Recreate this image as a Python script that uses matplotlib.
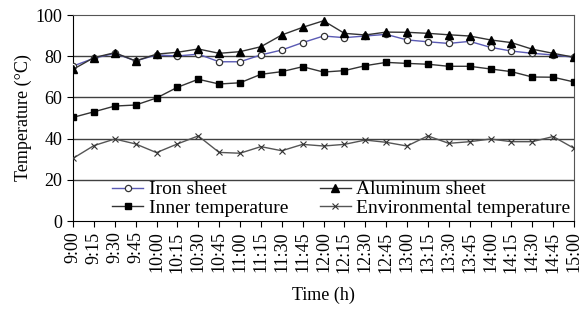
import matplotlib.pyplot as plt
import numpy as np

plt.rcParams['font.family'] = ['Liberation Serif', 'DejaVu Serif']

times = ['9:00', '9:15', '9:30', '9:45', '10:00', '10:15', '10:30', '10:45',
         '11:00', '11:15', '11:30', '11:45', '12:00', '12:15', '12:30', '12:45',
         '13:00', '13:15', '13:30', '13:45', '14:00', '14:15', '14:30', '14:45',
         '15:00']

iron = [75.2, 79.0, 81.4, 77.7, 80.6, 80.1, 81.0, 77.3, 77.3, 80.6, 83.0, 86.6,
        89.8, 89.0, 89.8, 90.6, 87.9, 87.0, 86.2, 87.2, 84.3, 82.5, 81.4, 80.6,
        79.5]
aluminum = [73.6, 79.3, 81.7, 77.7, 81.0, 81.9, 83.5, 81.4, 82.2, 84.6, 90.3, 94.0,
            97.2, 91.1, 90.3, 91.7, 91.6, 91.1, 90.4, 89.8, 87.9, 86.6, 83.4, 81.4,
            79.5]
inner = [50.3, 53.0, 55.8, 56.3, 59.7, 64.9, 68.8, 66.5, 67.1, 71.2, 72.5, 74.9,
         72.3, 73.0, 75.4, 77.0, 76.5, 76.1, 75.1, 75.1, 73.8, 72.5, 69.9, 69.8,
         67.5]
environment = [30.4, 36.6, 39.8, 37.4, 33.2, 37.4, 41.3, 33.3, 32.9, 36.1, 34.1, 37.2,
               36.4, 37.2, 39.3, 38.2, 36.4, 41.3, 37.7, 38.5, 39.8, 38.5, 38.5, 41.0,
               35.3]

x = np.arange(len(times))

fig = plt.figure(figsize=(5.81, 3.10), dpi=100)
ax = fig.add_axes([73/581, 1-221/310, 501/581, 206/310])

for yv in [20, 40, 60, 80]:
    ax.axhline(yv, color='#404040', lw=1, zorder=1)

l_iron, = ax.plot(x, iron, color='#5a5ab4', lw=1, marker='o', ms=4.5, mfc='white',
                  mec='#333333', mew=0.9, label='Iron sheet', zorder=3)
l_alu, = ax.plot(x, aluminum, color='#333333', lw=1, marker='^', ms=5.5, mfc='black',
                 mec='black', label='Aluminum sheet', zorder=3)
l_inner, = ax.plot(x, inner, color='#333333', lw=1, marker='s', ms=4.5, mfc='black',
                   mec='black', label='Inner temperature', zorder=3)
l_env, = ax.plot(x, environment, color='#555555', lw=1, marker='x', ms=5, mec='#333333',
                 mew=0.8, label='Environmental temperature', zorder=3)

ax.set_xlim(0, len(times) - 1)
ax.set_ylim(0, 100)
ax.set_yticks(range(0, 101, 20))
ax.set_xticks(x)
ax.set_xticklabels(times, rotation=90, fontsize=13)
ax.tick_params(axis='y', labelsize=13, direction='out', length=4)
ax.tick_params(axis='x', direction='out', length=4)
ax.set_ylabel('Temperature (\u00b0C)', fontsize=13, labelpad=3)
ax.set_xlabel('Time (h)', fontsize=13, labelpad=10)

for side in ['top', 'right']:
    ax.spines[side].set_color('#555555')

handles = [l_iron, l_inner, l_alu, l_env]
ax.legend(handles, [h.get_label() for h in handles], ncol=2, loc='upper left',
          bbox_to_anchor=(0.078, 0.195), frameon=False, fontsize=14,
          borderpad=0, borderaxespad=0, handlelength=1.6, handletextpad=0.3,
          columnspacing=1.6, labelspacing=0.05)

fig.savefig('out.png', dpi=100)
